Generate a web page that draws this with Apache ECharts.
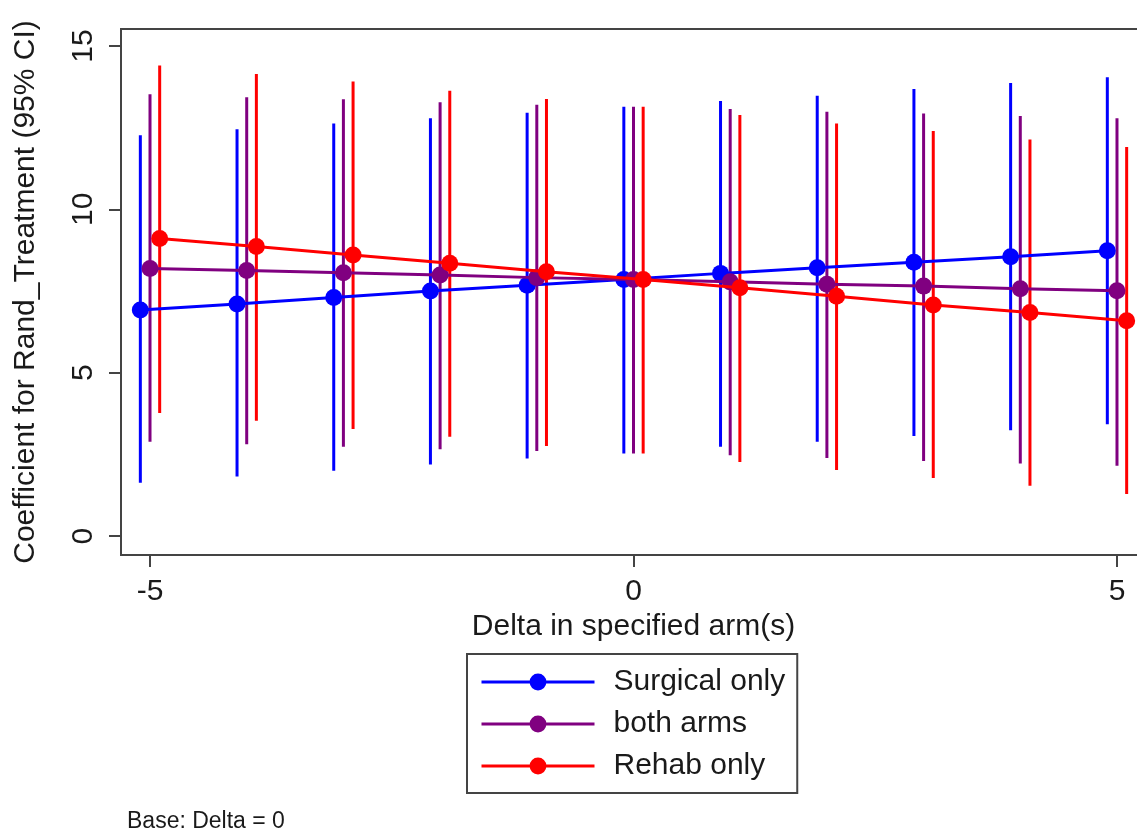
<!DOCTYPE html>
<html><head><meta charset="utf-8">
<script src="https://cdn.jsdelivr.net/npm/echarts@6/dist/echarts.min.js"></script>
<style>html,body{margin:0;padding:0;background:#fff}#c{width:1137px;height:835px}</style>
</head><body><div id="c"></div>
<script>
const deltas = [-5,-4,-3,-2,-1,0,1,2,3,4,5];
const surgicalCoef = [6.92,7.10,7.30,7.50,7.68,7.85,8.04,8.21,8.38,8.55,8.73];
const surgicalLow  = [1.63,1.82,2.00,2.19,2.37,2.53,2.73,2.89,3.06,3.24,3.42];
const surgicalHigh = [12.27,12.45,12.63,12.79,12.96,13.14,13.32,13.48,13.68,13.87,14.04];
const bothCoef = [8.19,8.13,8.06,7.99,7.91,7.85,7.78,7.71,7.65,7.57,7.51];
const bothLow  = [2.89,2.81,2.73,2.66,2.60,2.53,2.47,2.39,2.30,2.22,2.15];
const bothHigh = [13.52,13.43,13.37,13.28,13.20,13.14,13.07,12.99,12.93,12.86,12.79];
const rehabCoef = [9.11,8.86,8.60,8.35,8.09,7.85,7.60,7.34,7.07,6.84,6.59];
const rehabLow  = [3.77,3.53,3.28,3.04,2.76,2.53,2.27,2.02,1.78,1.54,1.29];
const rehabHigh = [14.40,14.14,13.91,13.63,13.38,13.14,12.89,12.63,12.40,12.14,11.91];
const seriesNames = ['Surgical only','both arms','Rehab only'];
const xTicks = [-5,0,5];
const yTicks = [0,5,10,15];
const xTitle = 'Delta in specified arm(s)';
const yTitle = 'Coefficient for Rand_Treatment (95% CI)';
const note = 'Base: Delta = 0';

const FONT = "'Liberation Sans', Arial, Helvetica, sans-serif";
const colors = ['#0000ff','#800080','#ff0000'];
const dodge = [-0.1, 0, 0.1];
const groups = [
  [surgicalCoef, surgicalLow, surgicalHigh],
  [bothCoef, bothLow, bothHigh],
  [rehabCoef, rehabLow, rehabHigh]
];

const series = [];
groups.forEach((g, k) => {
  series.push({
    type: 'custom', name: seriesNames[k] + ' CI', silent: true, z: 1,
    encode: {x: 0, y: [1, 2]},
    data: deltas.map((d, i) => [d + dodge[k], g[1][i], g[2][i]]),
    renderItem(params, api) {
      const p1 = api.coord([api.value(0), api.value(1)]);
      const p2 = api.coord([api.value(0), api.value(2)]);
      return {type: 'line', shape: {x1: p1[0], y1: p1[1], x2: p2[0], y2: p2[1]},
        style: {stroke: colors[k], lineWidth: 3}};
    }
  });
});
groups.forEach((g, k) => {
  series.push({
    type: 'line', name: seriesNames[k], z: 3 + k,
    data: deltas.map((d, i) => [d + dodge[k], g[0][i]]),
    symbol: 'circle', symbolSize: 17, showSymbol: true,
    lineStyle: {color: colors[k], width: 3},
    itemStyle: {color: colors[k]},
    emphasis: {disabled: true}
  });
});

const axisCol = '#444';
const chart = echarts.init(document.getElementById('c'), null, {renderer: 'canvas'});
chart.setOption({
  backgroundColor: '#fff',
  animation: false,
  textStyle: {fontFamily: FONT},
  grid: {left: 121, top: 29, width: 1025, height: 526, show: true, borderColor: axisCol, borderWidth: 2,
    containLabel: false, outerBoundsMode: 'none'},
  xAxis: {
    type: 'value', min: -5.3, max: 5.3,
    name: xTitle, nameLocation: 'middle', nameGap: 52,
    nameTextStyle: {fontSize: 30, color: '#1a1a1a', fontFamily: FONT},
    axisLine: {show: true, onZero: false, lineStyle: {color: axisCol, width: 2}},
    axisTick: {show: true, customValues: xTicks, length: 12, lineStyle: {color: axisCol, width: 2}},
    axisLabel: {customValues: xTicks, fontSize: 30, color: '#1a1a1a', margin: 22, fontFamily: FONT},
    splitLine: {show: false}
  },
  yAxis: {
    type: 'value', min: -0.58, max: 15.52,
    name: yTitle, nameLocation: 'middle', nameGap: 80, nameRotate: 90,
    nameTextStyle: {fontSize: 30, color: '#1a1a1a', fontFamily: FONT},
    axisLine: {show: true, onZero: false, lineStyle: {color: axisCol, width: 2}},
    axisTick: {show: true, customValues: yTicks, length: 12, lineStyle: {color: axisCol, width: 2}},
    axisLabel: {customValues: yTicks, rotate: 90, fontSize: 30, color: '#1a1a1a', margin: 22, fontFamily: FONT},
    splitLine: {show: false}
  },
  legend: {
    data: seriesNames, orient: 'vertical', left: 467, top: 654,
    padding: [11, 12, 10, 13], itemGap: 8, itemWidth: 113, itemHeight: 21,
    borderColor: axisCol, borderWidth: 2, selectedMode: false,
    lineStyle: {width: 3},
    textStyle: {fontSize: 30, color: '#1a1a1a', fontFamily: FONT, lineHeight: 34, padding: [0, 0, 0, 14]}
  },
  graphic: [{
    type: 'text', left: 127, top: 810,
    style: {text: note, font: "23px " + FONT, fill: '#1a1a1a'}
  }],
  series: series
});
</script>
</body></html>
